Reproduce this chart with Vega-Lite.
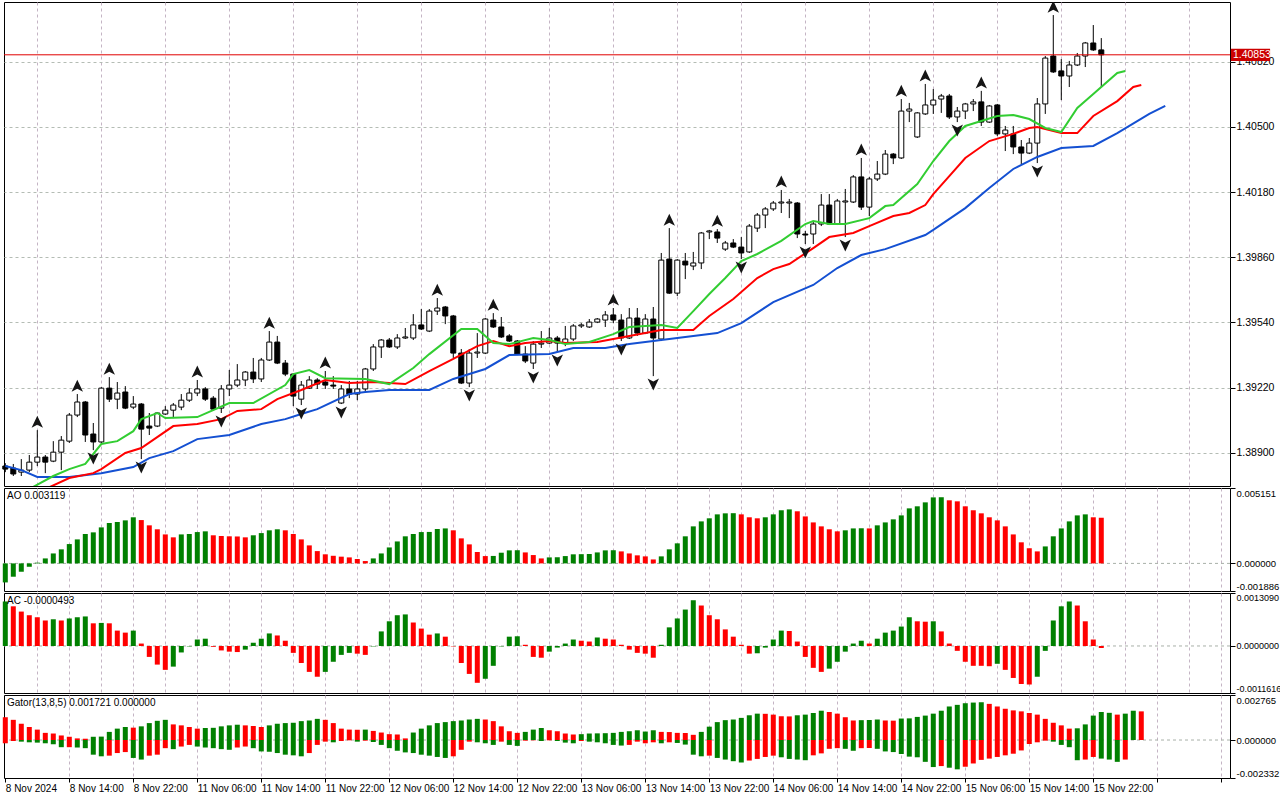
{
  "$schema": "https://vega.github.io/schema/vega-lite/v6.json",
  "background": "white",
  "padding": {"left": 1, "top": 1, "right": 0, "bottom": 0},
  "spacing": 0,
  "config": {
    "view": {"stroke": "black", "strokeWidth": 1, "fill": "white"},
    "axis": {"labelFont": "Liberation Sans", "labelFontSize": 10.5, "labelColor": "black", "tickColor": "black"},
    "title": {"font": "Liberation Sans", "fontSize": 10, "fontWeight": "normal", "color": "black", "anchor": "start", "frame": "group", "offset": -13, "dx": 3}
  },
  "datasets": {
    "candles": [
      {"i":0,"o":1.38836,"h":1.38850,"l":1.38806,"c":1.38821},
      {"i":1,"o":1.38826,"h":1.38846,"l":1.38787,"c":1.38797},
      {"i":2,"o":1.38806,"h":1.38870,"l":1.38787,"c":1.38816},
      {"i":3,"o":1.38816,"h":1.38890,"l":1.38806,"c":1.38855},
      {"i":4,"o":1.38855,"h":1.39012,"l":1.38836,"c":1.38880},
      {"i":5,"o":1.38880,"h":1.38890,"l":1.38801,"c":1.38855},
      {"i":6,"o":1.38860,"h":1.38958,"l":1.38855,"c":1.38904},
      {"i":7,"o":1.38904,"h":1.38983,"l":1.38816,"c":1.38963},
      {"i":8,"o":1.38958,"h":1.39096,"l":1.38949,"c":1.39086},
      {"i":9,"o":1.39086,"h":1.39189,"l":1.39076,"c":1.39150},
      {"i":10,"o":1.39150,"h":1.39155,"l":1.38954,"c":1.38988},
      {"i":11,"o":1.38993,"h":1.39047,"l":1.38914,"c":1.38954},
      {"i":12,"o":1.38954,"h":1.39223,"l":1.38949,"c":1.39218},
      {"i":13,"o":1.39218,"h":1.39272,"l":1.39150,"c":1.39164},
      {"i":14,"o":1.39164,"h":1.39248,"l":1.39115,"c":1.39194},
      {"i":15,"o":1.39199,"h":1.39228,"l":1.39115,"c":1.39120},
      {"i":16,"o":1.39125,"h":1.39179,"l":1.39115,"c":1.39140},
      {"i":17,"o":1.39140,"h":1.39145,"l":1.38870,"c":1.39017},
      {"i":18,"o":1.39032,"h":1.39096,"l":1.38988,"c":1.39022},
      {"i":19,"o":1.39032,"h":1.39101,"l":1.39027,"c":1.39096},
      {"i":20,"o":1.39091,"h":1.39130,"l":1.39086,"c":1.39110},
      {"i":21,"o":1.39110,"h":1.39145,"l":1.39071,"c":1.39135},
      {"i":22,"o":1.39125,"h":1.39189,"l":1.39110,"c":1.39159},
      {"i":23,"o":1.39159,"h":1.39218,"l":1.39150,"c":1.39194},
      {"i":24,"o":1.39194,"h":1.39258,"l":1.39179,"c":1.39214},
      {"i":25,"o":1.39214,"h":1.39223,"l":1.39155,"c":1.39164},
      {"i":26,"o":1.39169,"h":1.39179,"l":1.39106,"c":1.39115},
      {"i":27,"o":1.39120,"h":1.39233,"l":1.39096,"c":1.39214},
      {"i":28,"o":1.39214,"h":1.39307,"l":1.39179,"c":1.39233},
      {"i":29,"o":1.39233,"h":1.39336,"l":1.39223,"c":1.39258},
      {"i":30,"o":1.39258,"h":1.39302,"l":1.39228,"c":1.39297},
      {"i":31,"o":1.39297,"h":1.39366,"l":1.39243,"c":1.39263},
      {"i":32,"o":1.39263,"h":1.39366,"l":1.39248,"c":1.39356},
      {"i":33,"o":1.39356,"h":1.39498,"l":1.39351,"c":1.39444},
      {"i":34,"o":1.39444,"h":1.39474,"l":1.39336,"c":1.39341},
      {"i":35,"o":1.39341,"h":1.39356,"l":1.39277,"c":1.39287},
      {"i":36,"o":1.39287,"h":1.39292,"l":1.39130,"c":1.39179},
      {"i":37,"o":1.39164,"h":1.39253,"l":1.39135,"c":1.39233},
      {"i":38,"o":1.39218,"h":1.39277,"l":1.39214,"c":1.39258},
      {"i":39,"o":1.39258,"h":1.39267,"l":1.39214,"c":1.39238},
      {"i":40,"o":1.39248,"h":1.39302,"l":1.39214,"c":1.39233},
      {"i":41,"o":1.39233,"h":1.39277,"l":1.39214,"c":1.39228},
      {"i":42,"o":1.39145,"h":1.39233,"l":1.39140,"c":1.39214},
      {"i":43,"o":1.39214,"h":1.39253,"l":1.39169,"c":1.39189},
      {"i":44,"o":1.39189,"h":1.39253,"l":1.39159,"c":1.39214},
      {"i":45,"o":1.39214,"h":1.39317,"l":1.39204,"c":1.39312},
      {"i":46,"o":1.39312,"h":1.39434,"l":1.39302,"c":1.39420},
      {"i":47,"o":1.39420,"h":1.39459,"l":1.39366,"c":1.39454},
      {"i":48,"o":1.39454,"h":1.39464,"l":1.39415,"c":1.39420},
      {"i":49,"o":1.39420,"h":1.39483,"l":1.39410,"c":1.39464},
      {"i":50,"o":1.39464,"h":1.39513,"l":1.39459,"c":1.39469},
      {"i":51,"o":1.39464,"h":1.39581,"l":1.39454,"c":1.39528},
      {"i":52,"o":1.39528,"h":1.39606,"l":1.39503,"c":1.39508},
      {"i":53,"o":1.39498,"h":1.39606,"l":1.39493,"c":1.39596},
      {"i":54,"o":1.39596,"h":1.39660,"l":1.39577,"c":1.39611},
      {"i":55,"o":1.39616,"h":1.39621,"l":1.39532,"c":1.39572},
      {"i":56,"o":1.39572,"h":1.39577,"l":1.39366,"c":1.39390},
      {"i":57,"o":1.39390,"h":1.39410,"l":1.39238,"c":1.39243},
      {"i":58,"o":1.39243,"h":1.39410,"l":1.39223,"c":1.39390},
      {"i":59,"o":1.39390,"h":1.39488,"l":1.39366,"c":1.39395},
      {"i":60,"o":1.39390,"h":1.39562,"l":1.39385,"c":1.39557},
      {"i":61,"o":1.39552,"h":1.39586,"l":1.39513,"c":1.39518},
      {"i":62,"o":1.39518,"h":1.39567,"l":1.39464,"c":1.39469},
      {"i":63,"o":1.39474,"h":1.39483,"l":1.39444,"c":1.39449},
      {"i":64,"o":1.39449,"h":1.39454,"l":1.39380,"c":1.39385},
      {"i":65,"o":1.39385,"h":1.39424,"l":1.39341,"c":1.39351},
      {"i":66,"o":1.39341,"h":1.39449,"l":1.39312,"c":1.39434},
      {"i":67,"o":1.39434,"h":1.39498,"l":1.39415,"c":1.39439},
      {"i":68,"o":1.39439,"h":1.39513,"l":1.39434,"c":1.39464},
      {"i":69,"o":1.39464,"h":1.39474,"l":1.39395,"c":1.39439},
      {"i":70,"o":1.39439,"h":1.39523,"l":1.39424,"c":1.39459},
      {"i":71,"o":1.39459,"h":1.39532,"l":1.39449,"c":1.39523},
      {"i":72,"o":1.39523,"h":1.39537,"l":1.39513,"c":1.39528},
      {"i":73,"o":1.39518,"h":1.39557,"l":1.39513,"c":1.39542},
      {"i":74,"o":1.39542,"h":1.39562,"l":1.39537,"c":1.39557},
      {"i":75,"o":1.39552,"h":1.39596,"l":1.39518,"c":1.39577},
      {"i":76,"o":1.39577,"h":1.39611,"l":1.39537,"c":1.39552},
      {"i":77,"o":1.39552,"h":1.39581,"l":1.39449,"c":1.39464},
      {"i":78,"o":1.39464,"h":1.39611,"l":1.39459,"c":1.39562},
      {"i":79,"o":1.39562,"h":1.39611,"l":1.39474,"c":1.39488},
      {"i":80,"o":1.39488,"h":1.39581,"l":1.39483,"c":1.39557},
      {"i":81,"o":1.39557,"h":1.39616,"l":1.39277,"c":1.39464},
      {"i":82,"o":1.39459,"h":1.39881,"l":1.39449,"c":1.39846},
      {"i":83,"o":1.39851,"h":1.40003,"l":1.39680,"c":1.39684},
      {"i":84,"o":1.39684,"h":1.39851,"l":1.39670,"c":1.39846},
      {"i":85,"o":1.39841,"h":1.39881,"l":1.39753,"c":1.39822},
      {"i":86,"o":1.39817,"h":1.39886,"l":1.39797,"c":1.39832},
      {"i":87,"o":1.39832,"h":1.39984,"l":1.39802,"c":1.39979},
      {"i":88,"o":1.39984,"h":1.39994,"l":1.39949,"c":1.39989},
      {"i":89,"o":1.39984,"h":1.39998,"l":1.39930,"c":1.39954},
      {"i":90,"o":1.39900,"h":1.39940,"l":1.39891,"c":1.39930},
      {"i":91,"o":1.39930,"h":1.39949,"l":1.39905,"c":1.39910},
      {"i":92,"o":1.39910,"h":1.39959,"l":1.39851,"c":1.39881},
      {"i":93,"o":1.39886,"h":1.40023,"l":1.39881,"c":1.40013},
      {"i":94,"o":1.40003,"h":1.40077,"l":1.39984,"c":1.40067},
      {"i":95,"o":1.40067,"h":1.40106,"l":1.40003,"c":1.40097},
      {"i":96,"o":1.40097,"h":1.40136,"l":1.40087,"c":1.40126},
      {"i":97,"o":1.40126,"h":1.40190,"l":1.40077,"c":1.40131},
      {"i":98,"o":1.40126,"h":1.40146,"l":1.40052,"c":1.40131},
      {"i":99,"o":1.40126,"h":1.40131,"l":1.39954,"c":1.39974},
      {"i":100,"o":1.39974,"h":1.39989,"l":1.39925,"c":1.39969},
      {"i":101,"o":1.39974,"h":1.40038,"l":1.39925,"c":1.40023},
      {"i":102,"o":1.40023,"h":1.40170,"l":1.40013,"c":1.40116},
      {"i":103,"o":1.40116,"h":1.40170,"l":1.40018,"c":1.40023},
      {"i":104,"o":1.40023,"h":1.40146,"l":1.40018,"c":1.40136},
      {"i":105,"o":1.40131,"h":1.40195,"l":1.39959,"c":1.40136},
      {"i":106,"o":1.40131,"h":1.40263,"l":1.40126,"c":1.40254},
      {"i":107,"o":1.40254,"h":1.40347,"l":1.40092,"c":1.40106},
      {"i":108,"o":1.40106,"h":1.40254,"l":1.40062,"c":1.40244},
      {"i":109,"o":1.40244,"h":1.40332,"l":1.40234,"c":1.40268},
      {"i":110,"o":1.40268,"h":1.40386,"l":1.40263,"c":1.40366},
      {"i":111,"o":1.40366,"h":1.40371,"l":1.40317,"c":1.40347},
      {"i":112,"o":1.40347,"h":1.40636,"l":1.40342,"c":1.40577},
      {"i":113,"o":1.40577,"h":1.40617,"l":1.40523,"c":1.40587},
      {"i":114,"o":1.40450,"h":1.40572,"l":1.40445,"c":1.40568},
      {"i":115,"o":1.40563,"h":1.40710,"l":1.40558,"c":1.40607},
      {"i":116,"o":1.40607,"h":1.40685,"l":1.40563,"c":1.40631},
      {"i":117,"o":1.40636,"h":1.40661,"l":1.40568,"c":1.40651},
      {"i":118,"o":1.40651,"h":1.40661,"l":1.40538,"c":1.40548},
      {"i":119,"o":1.40548,"h":1.40597,"l":1.40523,"c":1.40577},
      {"i":120,"o":1.40577,"h":1.40617,"l":1.40538,"c":1.40612},
      {"i":121,"o":1.40612,"h":1.40636,"l":1.40577,"c":1.40622},
      {"i":122,"o":1.40622,"h":1.40676,"l":1.40504,"c":1.40523},
      {"i":123,"o":1.40523,"h":1.40607,"l":1.40519,"c":1.40602},
      {"i":124,"o":1.40607,"h":1.40612,"l":1.40455,"c":1.40465},
      {"i":125,"o":1.40465,"h":1.40504,"l":1.40381,"c":1.40484},
      {"i":126,"o":1.40465,"h":1.40504,"l":1.40366,"c":1.40401},
      {"i":127,"o":1.40401,"h":1.40435,"l":1.40317,"c":1.40371},
      {"i":128,"o":1.40371,"h":1.40445,"l":1.40366,"c":1.40420},
      {"i":129,"o":1.40420,"h":1.40641,"l":1.40322,"c":1.40612},
      {"i":130,"o":1.40612,"h":1.40847,"l":1.40563,"c":1.40837},
      {"i":131,"o":1.40847,"h":1.41048,"l":1.40764,"c":1.40769},
      {"i":132,"o":1.40774,"h":1.40832,"l":1.40631,"c":1.40749},
      {"i":133,"o":1.40749,"h":1.40823,"l":1.40695,"c":1.40803},
      {"i":134,"o":1.40803,"h":1.40862,"l":1.40798,"c":1.40847},
      {"i":135,"o":1.40847,"h":1.40916,"l":1.40793,"c":1.40911},
      {"i":136,"o":1.40911,"h":1.40999,"l":1.40872,"c":1.40877},
      {"i":137,"o":1.40877,"h":1.40935,"l":1.40695,"c":1.40853}
    ],
    "lips": [
      {"i":3,"v":1.38723},{"i":6,"v":1.38787},{"i":8,"v":1.38821},{"i":10,"v":1.38846},{"i":12,"v":1.38944},{"i":14,"v":1.38958},{"i":16,"v":1.39007},{"i":17,"v":1.39066},{"i":19,"v":1.39096},{"i":20,"v":1.39071},{"i":24,"v":1.39076},{"i":28,"v":1.39145},{"i":31,"v":1.39145},{"i":35,"v":1.39233},{"i":36,"v":1.39287},{"i":38,"v":1.39307},{"i":40,"v":1.39267},{"i":45,"v":1.39263},{"i":48,"v":1.39238},{"i":51,"v":1.39317},{"i":53,"v":1.39385},{"i":57,"v":1.39508},{"i":59,"v":1.39508},{"i":61,"v":1.39439},{"i":63,"v":1.39434},{"i":66,"v":1.39464},{"i":68,"v":1.39454},{"i":70,"v":1.39434},{"i":73,"v":1.39444},{"i":76,"v":1.39483},{"i":78,"v":1.39518},{"i":82,"v":1.39528},{"i":84,"v":1.39513},{"i":86,"v":1.39596},{"i":88,"v":1.39680},{"i":90,"v":1.39758},{"i":92,"v":1.39841},{"i":94,"v":1.39876},{"i":97,"v":1.39940},{"i":100,"v":1.40023},{"i":101,"v":1.40038},{"i":103,"v":1.40023},{"i":105,"v":1.40023},{"i":108,"v":1.40052},{"i":110,"v":1.40111},{"i":111,"v":1.40116},{"i":114,"v":1.40219},{"i":116,"v":1.40332},{"i":118,"v":1.40430},{"i":120,"v":1.40504},{"i":122,"v":1.40528},{"i":124,"v":1.40553},{"i":126,"v":1.40558},{"i":128,"v":1.40538},{"i":130,"v":1.40494},{"i":132,"v":1.40474},{"i":134,"v":1.40592},{"i":136,"v":1.40661},{"i":139,"v":1.40764},{"i":140,"v":1.40774}
    ],
    "teeth": [
      {"i":5,"v":1.38723},{"i":8,"v":1.38777},{"i":11,"v":1.38801},{"i":12,"v":1.38821},{"i":15,"v":1.38900},{"i":17,"v":1.38924},{"i":21,"v":1.39032},{"i":24,"v":1.39042},{"i":27,"v":1.39066},{"i":29,"v":1.39106},{"i":32,"v":1.39115},{"i":34,"v":1.39164},{"i":37,"v":1.39209},{"i":40,"v":1.39258},{"i":43,"v":1.39243},{"i":46,"v":1.39248},{"i":50,"v":1.39238},{"i":53,"v":1.39302},{"i":56,"v":1.39361},{"i":59,"v":1.39424},{"i":61,"v":1.39449},{"i":63,"v":1.39424},{"i":65,"v":1.39439},{"i":68,"v":1.39449},{"i":70,"v":1.39439},{"i":74,"v":1.39444},{"i":78,"v":1.39474},{"i":82,"v":1.39503},{"i":86,"v":1.39503},{"i":88,"v":1.39572},{"i":91,"v":1.39655},{"i":94,"v":1.39758},{"i":96,"v":1.39802},{"i":98,"v":1.39827},{"i":101,"v":1.39905},{"i":103,"v":1.39959},{"i":106,"v":1.39979},{"i":108,"v":1.40013},{"i":111,"v":1.40062},{"i":113,"v":1.40077},{"i":115,"v":1.40116},{"i":116,"v":1.40170},{"i":118,"v":1.40258},{"i":120,"v":1.40347},{"i":123,"v":1.40430},{"i":126,"v":1.40465},{"i":128,"v":1.40494},{"i":129,"v":1.40499},{"i":132,"v":1.40469},{"i":134,"v":1.40469},{"i":136,"v":1.40553},{"i":139,"v":1.40626},{"i":141,"v":1.40695},{"i":142,"v":1.40705}
    ],
    "jaw": [
      {"i":0,"v":1.38836},{"i":2,"v":1.38816},{"i":4,"v":1.38782},{"i":8,"v":1.38782},{"i":12,"v":1.38801},{"i":16,"v":1.38831},{"i":18,"v":1.38875},{"i":21,"v":1.38909},{"i":24,"v":1.38968},{"i":28,"v":1.38988},{"i":32,"v":1.39042},{"i":35,"v":1.39066},{"i":37,"v":1.39091},{"i":39,"v":1.39115},{"i":43,"v":1.39189},{"i":45,"v":1.39199},{"i":48,"v":1.39209},{"i":53,"v":1.39209},{"i":56,"v":1.39263},{"i":60,"v":1.39312},{"i":63,"v":1.39380},{"i":68,"v":1.39385},{"i":71,"v":1.39415},{"i":75,"v":1.39415},{"i":78,"v":1.39434},{"i":82,"v":1.39454},{"i":84,"v":1.39464},{"i":89,"v":1.39488},{"i":92,"v":1.39537},{"i":96,"v":1.39640},{"i":101,"v":1.39724},{"i":104,"v":1.39807},{"i":107,"v":1.39871},{"i":110,"v":1.39900},{"i":115,"v":1.39969},{"i":116,"v":1.39994},{"i":120,"v":1.40101},{"i":123,"v":1.40200},{"i":126,"v":1.40293},{"i":129,"v":1.40352},{"i":132,"v":1.40396},{"i":136,"v":1.40406},{"i":139,"v":1.40469},{"i":143,"v":1.40563},{"i":145,"v":1.40602}
    ],
    "fup": [
      {"i":4,"v":1.39012},{"i":9,"v":1.39189},{"i":13,"v":1.39272},{"i":24,"v":1.39258},{"i":33,"v":1.39498},{"i":40,"v":1.39302},{"i":54,"v":1.39660},{"i":61,"v":1.39586},{"i":76,"v":1.39611},{"i":83,"v":1.40003},{"i":89,"v":1.39998},{"i":97,"v":1.40190},{"i":107,"v":1.40347},{"i":112,"v":1.40636},{"i":115,"v":1.40710},{"i":122,"v":1.40676},{"i":131,"v":1.41048}
    ],
    "fdn": [
      {"i":11,"v":1.38914},{"i":17,"v":1.38870},{"i":27,"v":1.39096},{"i":37,"v":1.39135},{"i":42,"v":1.39140},{"i":58,"v":1.39223},{"i":66,"v":1.39312},{"i":69,"v":1.39395},{"i":77,"v":1.39449},{"i":81,"v":1.39277},{"i":92,"v":1.39851},{"i":100,"v":1.39925},{"i":105,"v":1.39959},{"i":119,"v":1.40523},{"i":129,"v":1.40322}
    ],
    "ao": [
      {"i":0,"v":-0.00130,"d":"g"},{"i":1,"v":-0.00091,"d":"g"},{"i":2,"v":-0.00057,"d":"g"},{"i":3,"v":-0.00023,"d":"g"},{"i":4,"v":0.00005,"d":"g"},{"i":5,"v":0.00034,"d":"g"},{"i":6,"v":0.00068,"d":"g"},{"i":7,"v":0.00096,"d":"g"},{"i":8,"v":0.00132,"d":"g"},{"i":9,"v":0.00164,"d":"g"},
      {"i":10,"v":0.00201,"d":"g"},{"i":11,"v":0.00212,"d":"g"},{"i":12,"v":0.00246,"d":"g"},{"i":13,"v":0.00276,"d":"g"},{"i":14,"v":0.00283,"d":"g"},{"i":15,"v":0.00294,"d":"g"},{"i":16,"v":0.00315,"d":"g"},{"i":17,"v":0.00296,"d":"r"},{"i":18,"v":0.00260,"d":"r"},{"i":19,"v":0.00233,"d":"r"},
      {"i":20,"v":0.00198,"d":"r"},{"i":21,"v":0.00178,"d":"r"},{"i":22,"v":0.00198,"d":"g"},{"i":23,"v":0.00201,"d":"g"},{"i":24,"v":0.00214,"d":"g"},{"i":25,"v":0.00219,"d":"g"},{"i":26,"v":0.00192,"d":"r"},{"i":27,"v":0.00187,"d":"r"},{"i":28,"v":0.00185,"d":"r"},{"i":29,"v":0.00184,"d":"r"},
      {"i":30,"v":0.00178,"d":"r"},{"i":31,"v":0.00192,"d":"g"},{"i":32,"v":0.00207,"d":"g"},{"i":33,"v":0.00226,"d":"g"},{"i":34,"v":0.00233,"d":"g"},{"i":35,"v":0.00226,"d":"r"},{"i":36,"v":0.00201,"d":"r"},{"i":37,"v":0.00164,"d":"r"},{"i":38,"v":0.00123,"d":"r"},{"i":39,"v":0.00084,"d":"r"},
      {"i":40,"v":0.00062,"d":"r"},{"i":41,"v":0.00052,"d":"r"},{"i":42,"v":0.00046,"d":"r"},{"i":43,"v":0.00041,"d":"r"},{"i":44,"v":0.00030,"d":"r"},{"i":45,"v":0.00016,"d":"r"},{"i":46,"v":0.00034,"d":"g"},{"i":47,"v":0.00068,"d":"g"},{"i":48,"v":0.00109,"d":"g"},{"i":49,"v":0.00150,"d":"g"},
      {"i":50,"v":0.00185,"d":"g"},{"i":51,"v":0.00201,"d":"g"},{"i":52,"v":0.00214,"d":"g"},{"i":53,"v":0.00215,"d":"g"},{"i":54,"v":0.00235,"d":"g"},{"i":55,"v":0.00239,"d":"g"},{"i":56,"v":0.00226,"d":"r"},{"i":57,"v":0.00171,"d":"r"},{"i":58,"v":0.00130,"d":"r"},{"i":59,"v":0.00078,"d":"r"},
      {"i":60,"v":0.00050,"d":"r"},{"i":61,"v":0.00051,"d":"g"},{"i":62,"v":0.00073,"d":"g"},{"i":63,"v":0.00089,"d":"g"},{"i":64,"v":0.00090,"d":"g"},{"i":65,"v":0.00075,"d":"r"},{"i":66,"v":0.00057,"d":"r"},{"i":67,"v":0.00034,"d":"r"},{"i":68,"v":0.00041,"d":"g"},{"i":69,"v":0.00042,"d":"g"},
      {"i":70,"v":0.00050,"d":"g"},{"i":71,"v":0.00062,"d":"g"},{"i":72,"v":0.00063,"d":"g"},{"i":73,"v":0.00064,"d":"g"},{"i":74,"v":0.00075,"d":"g"},{"i":75,"v":0.00089,"d":"g"},{"i":76,"v":0.00090,"d":"g"},{"i":77,"v":0.00082,"d":"r"},{"i":78,"v":0.00068,"d":"r"},{"i":79,"v":0.00055,"d":"r"},
      {"i":80,"v":0.00048,"d":"r"},{"i":81,"v":0.00027,"d":"r"},{"i":82,"v":0.00048,"d":"g"},{"i":83,"v":0.00096,"d":"g"},{"i":84,"v":0.00137,"d":"g"},{"i":85,"v":0.00185,"d":"g"},{"i":86,"v":0.00253,"d":"g"},{"i":87,"v":0.00287,"d":"g"},{"i":88,"v":0.00308,"d":"g"},{"i":89,"v":0.00335,"d":"g"},
      {"i":90,"v":0.00342,"d":"g"},{"i":91,"v":0.00343,"d":"g"},{"i":92,"v":0.00335,"d":"r"},{"i":93,"v":0.00315,"d":"r"},{"i":94,"v":0.00308,"d":"r"},{"i":95,"v":0.00315,"d":"g"},{"i":96,"v":0.00335,"d":"g"},{"i":97,"v":0.00363,"d":"g"},{"i":98,"v":0.00369,"d":"g"},{"i":99,"v":0.00356,"d":"r"},
      {"i":100,"v":0.00321,"d":"r"},{"i":101,"v":0.00280,"d":"r"},{"i":102,"v":0.00253,"d":"r"},{"i":103,"v":0.00233,"d":"r"},{"i":104,"v":0.00219,"d":"r"},{"i":105,"v":0.00226,"d":"g"},{"i":106,"v":0.00239,"d":"g"},{"i":107,"v":0.00240,"d":"g"},{"i":108,"v":0.00239,"d":"r"},{"i":109,"v":0.00260,"d":"g"},
      {"i":110,"v":0.00280,"d":"g"},{"i":111,"v":0.00301,"d":"g"},{"i":112,"v":0.00328,"d":"g"},{"i":113,"v":0.00376,"d":"g"},{"i":114,"v":0.00390,"d":"g"},{"i":115,"v":0.00417,"d":"g"},{"i":116,"v":0.00451,"d":"g"},{"i":117,"v":0.00452,"d":"g"},{"i":118,"v":0.00431,"d":"r"},{"i":119,"v":0.00424,"d":"r"},
      {"i":120,"v":0.00390,"d":"r"},{"i":121,"v":0.00363,"d":"r"},{"i":122,"v":0.00342,"d":"r"},{"i":123,"v":0.00315,"d":"r"},{"i":124,"v":0.00294,"d":"r"},{"i":125,"v":0.00253,"d":"r"},{"i":126,"v":0.00198,"d":"r"},{"i":127,"v":0.00144,"d":"r"},{"i":128,"v":0.00103,"d":"r"},{"i":129,"v":0.00082,"d":"r"},
      {"i":130,"v":0.00116,"d":"g"},{"i":131,"v":0.00185,"d":"g"},{"i":132,"v":0.00239,"d":"g"},{"i":133,"v":0.00287,"d":"g"},{"i":134,"v":0.00328,"d":"g"},{"i":135,"v":0.00335,"d":"g"},{"i":136,"v":0.00315,"d":"r"},{"i":137,"v":0.003119,"d":"r"}
    ],
    "ac": [
      {"i":0,"v":0.00110,"d":"g"},{"i":1,"v":0.00098,"d":"r"},{"i":2,"v":0.00085,"d":"r"},{"i":3,"v":0.00076,"d":"r"},{"i":4,"v":0.00071,"d":"r"},{"i":5,"v":0.00063,"d":"r"},{"i":6,"v":0.00066,"d":"g"},{"i":7,"v":0.00063,"d":"r"},{"i":8,"v":0.00068,"d":"g"},{"i":9,"v":0.00071,"d":"g"},
      {"i":10,"v":0.00073,"d":"g"},{"i":11,"v":0.00056,"d":"r"},{"i":12,"v":0.00057,"d":"g"},{"i":13,"v":0.00056,"d":"r"},{"i":14,"v":0.00038,"d":"r"},{"i":15,"v":0.00033,"d":"r"},{"i":16,"v":0.00038,"d":"g"},{"i":17,"v":0.00006,"d":"r"},{"i":18,"v":-0.00027,"d":"r"},{"i":19,"v":-0.00046,"d":"r"},
      {"i":20,"v":-0.00059,"d":"r"},{"i":21,"v":-0.00051,"d":"g"},{"i":22,"v":-0.00016,"d":"g"},{"i":23,"v":-0.00001,"d":"g"},{"i":24,"v":0.00016,"d":"g"},{"i":25,"v":0.00018,"d":"g"},{"i":26,"v":-0.00002,"d":"r"},{"i":27,"v":-0.00011,"d":"r"},{"i":28,"v":-0.00014,"d":"r"},{"i":29,"v":-0.00015,"d":"r"},
      {"i":30,"v":-0.00009,"d":"g"},{"i":31,"v":0.00008,"d":"g"},{"i":32,"v":0.00018,"d":"g"},{"i":33,"v":0.00031,"d":"g"},{"i":34,"v":0.00026,"d":"r"},{"i":35,"v":0.00013,"d":"r"},{"i":36,"v":-0.00017,"d":"r"},{"i":37,"v":-0.00042,"d":"r"},{"i":38,"v":-0.00064,"d":"r"},{"i":39,"v":-0.00076,"d":"r"},
      {"i":40,"v":-0.00064,"d":"g"},{"i":41,"v":-0.00039,"d":"g"},{"i":42,"v":-0.00022,"d":"g"},{"i":43,"v":-0.00017,"d":"g"},{"i":44,"v":-0.00019,"d":"r"},{"i":45,"v":-0.00022,"d":"r"},{"i":46,"v":-0.00001,"d":"g"},{"i":47,"v":0.00036,"d":"g"},{"i":48,"v":0.00061,"d":"g"},{"i":49,"v":0.00076,"d":"g"},
      {"i":50,"v":0.00078,"d":"g"},{"i":51,"v":0.00058,"d":"r"},{"i":52,"v":0.00043,"d":"r"},{"i":53,"v":0.00028,"d":"r"},{"i":54,"v":0.00031,"d":"g"},{"i":55,"v":0.00023,"d":"r"},{"i":56,"v":-0.00001,"d":"r"},{"i":57,"v":-0.00042,"d":"r"},{"i":58,"v":-0.00069,"d":"r"},{"i":59,"v":-0.00091,"d":"r"},
      {"i":60,"v":-0.00081,"d":"g"},{"i":61,"v":-0.00049,"d":"g"},{"i":62,"v":-0.00001,"d":"g"},{"i":63,"v":0.00023,"d":"g"},{"i":64,"v":0.00024,"d":"g"},{"i":65,"v":0.00003,"d":"r"},{"i":66,"v":-0.00027,"d":"r"},{"i":67,"v":-0.00029,"d":"r"},{"i":68,"v":-0.00014,"d":"g"},{"i":69,"v":-0.00004,"d":"g"},
      {"i":70,"v":0.00006,"d":"g"},{"i":71,"v":0.00016,"d":"g"},{"i":72,"v":0.00013,"d":"r"},{"i":73,"v":0.00011,"d":"r"},{"i":74,"v":0.00021,"d":"g"},{"i":75,"v":0.00018,"d":"r"},{"i":76,"v":0.00016,"d":"r"},{"i":77,"v":0.00003,"d":"r"},{"i":78,"v":-0.00009,"d":"r"},{"i":79,"v":-0.00017,"d":"r"},
      {"i":80,"v":-0.00019,"d":"r"},{"i":81,"v":-0.00029,"d":"r"},{"i":82,"v":0.00003,"d":"g"},{"i":83,"v":0.00046,"d":"g"},{"i":84,"v":0.00068,"d":"g"},{"i":85,"v":0.00090,"d":"g"},{"i":86,"v":0.00113,"d":"g"},{"i":87,"v":0.00100,"d":"r"},{"i":88,"v":0.00076,"d":"r"},{"i":89,"v":0.00066,"d":"r"},
      {"i":90,"v":0.00041,"d":"r"},{"i":91,"v":0.00023,"d":"r"},{"i":92,"v":0.00003,"d":"r"},{"i":93,"v":-0.00019,"d":"r"},{"i":94,"v":-0.00018,"d":"g"},{"i":95,"v":-0.00004,"d":"g"},{"i":96,"v":0.00016,"d":"g"},{"i":97,"v":0.00038,"d":"g"},{"i":98,"v":0.00037,"d":"r"},{"i":99,"v":0.00011,"d":"r"},
      {"i":100,"v":-0.00027,"d":"r"},{"i":101,"v":-0.00054,"d":"r"},{"i":102,"v":-0.00064,"d":"r"},{"i":103,"v":-0.00056,"d":"g"},{"i":104,"v":-0.00039,"d":"g"},{"i":105,"v":-0.00014,"d":"g"},{"i":106,"v":0.00006,"d":"g"},{"i":107,"v":0.00013,"d":"g"},{"i":108,"v":0.00006,"d":"r"},{"i":109,"v":0.00018,"d":"g"},
      {"i":110,"v":0.00033,"d":"g"},{"i":111,"v":0.00038,"d":"g"},{"i":112,"v":0.00048,"d":"g"},{"i":113,"v":0.00071,"d":"g"},{"i":114,"v":0.00061,"d":"r"},{"i":115,"v":0.00060,"d":"r"},{"i":116,"v":0.00061,"d":"g"},{"i":117,"v":0.00036,"d":"r"},{"i":118,"v":0.00006,"d":"r"},{"i":119,"v":-0.00012,"d":"r"},
      {"i":120,"v":-0.00039,"d":"r"},{"i":121,"v":-0.00049,"d":"r"},{"i":122,"v":-0.00049,"d":"r"},{"i":123,"v":-0.00050,"d":"r"},{"i":124,"v":-0.00044,"d":"g"},{"i":125,"v":-0.00059,"d":"r"},{"i":126,"v":-0.00079,"d":"r"},{"i":127,"v":-0.00094,"d":"r"},{"i":128,"v":-0.00095,"d":"r"},{"i":129,"v":-0.00076,"d":"g"},
      {"i":130,"v":-0.00012,"d":"g"},{"i":131,"v":0.00063,"d":"g"},{"i":132,"v":0.00098,"d":"g"},{"i":133,"v":0.00110,"d":"g"},{"i":134,"v":0.00100,"d":"r"},{"i":135,"v":0.00061,"d":"r"},{"i":136,"v":0.00016,"d":"r"},{"i":137,"v":-0.0000493,"d":"r"}
    ],
    "gu": [
      {"i":0,"v":0.00140,"d":"r"},{"i":1,"v":0.00124,"d":"r"},{"i":2,"v":0.00100,"d":"r"},{"i":3,"v":0.00080,"d":"r"},{"i":4,"v":0.00064,"d":"r"},{"i":5,"v":0.00044,"d":"r"},{"i":6,"v":0.00040,"d":"r"},{"i":7,"v":0.00028,"d":"r"},{"i":8,"v":0.00020,"d":"r"},{"i":9,"v":0.00010,"d":"r"},
      {"i":10,"v":0.00008,"d":"r"},{"i":11,"v":0.00020,"d":"g"},{"i":12,"v":0.00021,"d":"g"},{"i":13,"v":0.00050,"d":"g"},{"i":14,"v":0.00070,"d":"g"},{"i":15,"v":0.00080,"d":"g"},{"i":16,"v":0.00076,"d":"r"},{"i":17,"v":0.00084,"d":"g"},{"i":18,"v":0.00104,"d":"g"},{"i":19,"v":0.00118,"d":"g"},
      {"i":20,"v":0.00124,"d":"g"},{"i":21,"v":0.00096,"d":"r"},{"i":22,"v":0.00090,"d":"r"},{"i":23,"v":0.00080,"d":"r"},{"i":24,"v":0.00070,"d":"r"},{"i":25,"v":0.00074,"d":"g"},{"i":26,"v":0.00075,"d":"g"},{"i":27,"v":0.00084,"d":"g"},{"i":28,"v":0.00090,"d":"g"},{"i":29,"v":0.00094,"d":"g"},
      {"i":30,"v":0.00090,"d":"r"},{"i":31,"v":0.00086,"d":"r"},{"i":32,"v":0.00080,"d":"r"},{"i":33,"v":0.00090,"d":"g"},{"i":34,"v":0.00100,"d":"g"},{"i":35,"v":0.00104,"d":"g"},{"i":36,"v":0.00106,"d":"g"},{"i":37,"v":0.00116,"d":"g"},{"i":38,"v":0.00120,"d":"g"},{"i":39,"v":0.00130,"d":"g"},
      {"i":40,"v":0.00124,"d":"r"},{"i":41,"v":0.00104,"d":"r"},{"i":42,"v":0.00070,"d":"r"},{"i":43,"v":0.00064,"d":"r"},{"i":44,"v":0.00063,"d":"r"},{"i":45,"v":0.00064,"d":"g"},{"i":46,"v":0.00056,"d":"r"},{"i":47,"v":0.00046,"d":"r"},{"i":48,"v":0.00036,"d":"r"},{"i":49,"v":0.00034,"d":"r"},
      {"i":50,"v":0.00010,"d":"r"},{"i":51,"v":0.00046,"d":"g"},{"i":52,"v":0.00070,"d":"g"},{"i":53,"v":0.00090,"d":"g"},{"i":54,"v":0.00104,"d":"g"},{"i":55,"v":0.00110,"d":"g"},{"i":56,"v":0.00116,"d":"g"},{"i":57,"v":0.00120,"d":"g"},{"i":58,"v":0.00126,"d":"g"},{"i":59,"v":0.00130,"d":"g"},
      {"i":60,"v":0.00126,"d":"r"},{"i":61,"v":0.00116,"d":"r"},{"i":62,"v":0.00084,"d":"r"},{"i":63,"v":0.00054,"d":"r"},{"i":64,"v":0.00044,"d":"r"},{"i":65,"v":0.00050,"d":"g"},{"i":66,"v":0.00064,"d":"g"},{"i":67,"v":0.00074,"d":"g"},{"i":68,"v":0.00060,"d":"r"},{"i":69,"v":0.00054,"d":"r"},
      {"i":70,"v":0.00040,"d":"r"},{"i":71,"v":0.00034,"d":"r"},{"i":72,"v":0.00036,"d":"g"},{"i":73,"v":0.00040,"d":"g"},{"i":74,"v":0.00041,"d":"g"},{"i":75,"v":0.00042,"d":"g"},{"i":76,"v":0.00044,"d":"g"},{"i":77,"v":0.00050,"d":"g"},{"i":78,"v":0.00054,"d":"g"},{"i":79,"v":0.00060,"d":"g"},
      {"i":80,"v":0.00052,"d":"g"},{"i":81,"v":0.00060,"d":"g"},{"i":82,"v":0.00050,"d":"r"},{"i":83,"v":0.00049,"d":"r"},{"i":84,"v":0.00044,"d":"r"},{"i":85,"v":0.00043,"d":"r"},{"i":86,"v":0.00032,"d":"r"},{"i":87,"v":0.00050,"d":"g"},{"i":88,"v":0.00082,"d":"g"},{"i":89,"v":0.00110,"d":"g"},
      {"i":90,"v":0.00122,"d":"g"},{"i":91,"v":0.00126,"d":"g"},{"i":92,"v":0.00136,"d":"g"},{"i":93,"v":0.00152,"d":"g"},{"i":94,"v":0.00162,"d":"g"},{"i":95,"v":0.00161,"d":"r"},{"i":96,"v":0.00156,"d":"r"},{"i":97,"v":0.00146,"d":"r"},{"i":98,"v":0.00145,"d":"r"},{"i":99,"v":0.00152,"d":"g"},
      {"i":100,"v":0.00156,"d":"g"},{"i":101,"v":0.00166,"d":"g"},{"i":102,"v":0.00180,"d":"g"},{"i":103,"v":0.00172,"d":"r"},{"i":104,"v":0.00162,"d":"r"},{"i":105,"v":0.00140,"d":"r"},{"i":106,"v":0.00120,"d":"r"},{"i":107,"v":0.00122,"d":"g"},{"i":108,"v":0.00123,"d":"g"},{"i":109,"v":0.00126,"d":"g"},
      {"i":110,"v":0.00120,"d":"r"},{"i":111,"v":0.00119,"d":"r"},{"i":112,"v":0.00132,"d":"g"},{"i":113,"v":0.00133,"d":"g"},{"i":114,"v":0.00142,"d":"g"},{"i":115,"v":0.00150,"d":"g"},{"i":116,"v":0.00162,"d":"g"},{"i":117,"v":0.00180,"d":"g"},{"i":118,"v":0.00206,"d":"g"},{"i":119,"v":0.00216,"d":"g"},
      {"i":120,"v":0.00226,"d":"g"},{"i":121,"v":0.00230,"d":"g"},{"i":122,"v":0.00232,"d":"g"},{"i":123,"v":0.00222,"d":"r"},{"i":124,"v":0.00206,"d":"r"},{"i":125,"v":0.00192,"d":"r"},{"i":126,"v":0.00182,"d":"r"},{"i":127,"v":0.00176,"d":"r"},{"i":128,"v":0.00166,"d":"r"},{"i":129,"v":0.00156,"d":"r"},
      {"i":130,"v":0.00130,"d":"r"},{"i":131,"v":0.00106,"d":"r"},{"i":132,"v":0.00090,"d":"r"},{"i":133,"v":0.00070,"d":"r"},{"i":134,"v":0.00072,"d":"g"},{"i":135,"v":0.00096,"d":"g"},{"i":136,"v":0.00150,"d":"g"},{"i":137,"v":0.001721,"d":"g"},{"i":138,"v":0.00167,"d":"g"},{"i":139,"v":0.00156,"d":"r"},
      {"i":140,"v":0.00162,"d":"g"},{"i":141,"v":0.00180,"d":"g"},{"i":142,"v":0.00176,"d":"r"}
    ],
    "gl": [
      {"i":0,"v":-0.00020,"d":"r"},{"i":1,"v":-0.00006,"d":"r"},{"i":2,"v":-0.00010,"d":"g"},{"i":3,"v":-0.00014,"d":"g"},{"i":4,"v":-0.00016,"d":"g"},{"i":5,"v":-0.00020,"d":"g"},{"i":6,"v":-0.00026,"d":"g"},{"i":7,"v":-0.00044,"d":"g"},{"i":8,"v":-0.00044,"d":"r"},{"i":9,"v":-0.00046,"d":"g"},
      {"i":10,"v":-0.00050,"d":"g"},{"i":11,"v":-0.00090,"d":"g"},{"i":12,"v":-0.00100,"d":"g"},{"i":13,"v":-0.00096,"d":"r"},{"i":14,"v":-0.00080,"d":"r"},{"i":15,"v":-0.00074,"d":"r"},{"i":16,"v":-0.00110,"d":"g"},{"i":17,"v":-0.00120,"d":"g"},{"i":18,"v":-0.00096,"d":"r"},{"i":19,"v":-0.00090,"d":"r"},
      {"i":20,"v":-0.00050,"d":"r"},{"i":21,"v":-0.00056,"d":"g"},{"i":22,"v":-0.00040,"d":"r"},{"i":23,"v":-0.00030,"d":"r"},{"i":24,"v":-0.00040,"d":"g"},{"i":25,"v":-0.00046,"d":"g"},{"i":26,"v":-0.00050,"d":"g"},{"i":27,"v":-0.00056,"d":"g"},{"i":28,"v":-0.00060,"d":"g"},{"i":29,"v":-0.00046,"d":"r"},
      {"i":30,"v":-0.00040,"d":"r"},{"i":31,"v":-0.00050,"d":"g"},{"i":32,"v":-0.00070,"d":"g"},{"i":33,"v":-0.00072,"d":"g"},{"i":34,"v":-0.00080,"d":"g"},{"i":35,"v":-0.00090,"d":"g"},{"i":36,"v":-0.00094,"d":"g"},{"i":37,"v":-0.00100,"d":"g"},{"i":38,"v":-0.00080,"d":"r"},{"i":39,"v":-0.00030,"d":"r"},
      {"i":40,"v":-0.00010,"d":"r"},{"i":41,"v":-0.00014,"d":"g"},{"i":42,"v":-0.00006,"d":"r"},{"i":43,"v":-0.00002,"d":"r"},{"i":44,"v":-0.00010,"d":"g"},{"i":45,"v":-0.00004,"d":"r"},{"i":46,"v":-0.00012,"d":"g"},{"i":47,"v":-0.00030,"d":"g"},{"i":48,"v":-0.00050,"d":"g"},{"i":49,"v":-0.00066,"d":"g"},
      {"i":50,"v":-0.00076,"d":"g"},{"i":51,"v":-0.00080,"d":"g"},{"i":52,"v":-0.00090,"d":"g"},{"i":53,"v":-0.00096,"d":"g"},{"i":54,"v":-0.00104,"d":"g"},{"i":55,"v":-0.00110,"d":"g"},{"i":56,"v":-0.00100,"d":"r"},{"i":57,"v":-0.00060,"d":"r"},{"i":58,"v":-0.00010,"d":"r"},{"i":59,"v":-0.00014,"d":"g"},
      {"i":60,"v":-0.00020,"d":"g"},{"i":61,"v":-0.00030,"d":"g"},{"i":62,"v":-0.00010,"d":"r"},{"i":63,"v":-0.00030,"d":"g"},{"i":64,"v":-0.00036,"d":"g"},{"i":65,"v":-0.00004,"d":"r"},{"i":66,"v":-0.00002,"d":"r"},{"i":67,"v":-0.00006,"d":"g"},{"i":68,"v":-0.00002,"d":"r"},{"i":69,"v":-0.00006,"d":"g"},
      {"i":70,"v":-0.00016,"d":"g"},{"i":71,"v":-0.00020,"d":"g"},{"i":72,"v":-0.00006,"d":"r"},{"i":73,"v":-0.00010,"d":"g"},{"i":74,"v":-0.00014,"d":"g"},{"i":75,"v":-0.00020,"d":"g"},{"i":76,"v":-0.00030,"d":"g"},{"i":77,"v":-0.00034,"d":"g"},{"i":78,"v":-0.00030,"d":"r"},{"i":79,"v":-0.00010,"d":"r"},
      {"i":80,"v":-0.00020,"d":"r"},{"i":81,"v":-0.00014,"d":"r"},{"i":82,"v":-0.00020,"d":"g"},{"i":83,"v":-0.00014,"d":"r"},{"i":84,"v":-0.00018,"d":"g"},{"i":85,"v":-0.00028,"d":"g"},{"i":86,"v":-0.00090,"d":"g"},{"i":87,"v":-0.00100,"d":"g"},{"i":88,"v":-0.00096,"d":"r"},{"i":89,"v":-0.00110,"d":"g"},
      {"i":90,"v":-0.00120,"d":"g"},{"i":91,"v":-0.00130,"d":"g"},{"i":92,"v":-0.00138,"d":"g"},{"i":93,"v":-0.00126,"d":"r"},{"i":94,"v":-0.00116,"d":"r"},{"i":95,"v":-0.00104,"d":"r"},{"i":96,"v":-0.00096,"d":"r"},{"i":97,"v":-0.00106,"d":"g"},{"i":98,"v":-0.00116,"d":"g"},{"i":99,"v":-0.00120,"d":"g"},
      {"i":100,"v":-0.00124,"d":"g"},{"i":101,"v":-0.00094,"d":"r"},{"i":102,"v":-0.00082,"d":"r"},{"i":103,"v":-0.00054,"d":"r"},{"i":104,"v":-0.00050,"d":"r"},{"i":105,"v":-0.00054,"d":"g"},{"i":106,"v":-0.00066,"d":"g"},{"i":107,"v":-0.00050,"d":"r"},{"i":108,"v":-0.00049,"d":"r"},{"i":109,"v":-0.00054,"d":"g"},
      {"i":110,"v":-0.00070,"d":"g"},{"i":111,"v":-0.00074,"d":"g"},{"i":112,"v":-0.00086,"d":"g"},{"i":113,"v":-0.00102,"d":"g"},{"i":114,"v":-0.00106,"d":"g"},{"i":115,"v":-0.00134,"d":"g"},{"i":116,"v":-0.00166,"d":"g"},{"i":117,"v":-0.00160,"d":"r"},{"i":118,"v":-0.00170,"d":"g"},{"i":119,"v":-0.00180,"d":"g"},
      {"i":120,"v":-0.00164,"d":"r"},{"i":121,"v":-0.00144,"d":"r"},{"i":122,"v":-0.00122,"d":"r"},{"i":123,"v":-0.00114,"d":"r"},{"i":124,"v":-0.00104,"d":"r"},{"i":125,"v":-0.00094,"d":"r"},{"i":126,"v":-0.00084,"d":"r"},{"i":127,"v":-0.00064,"d":"r"},{"i":128,"v":-0.00024,"d":"r"},{"i":129,"v":-0.00014,"d":"r"},
      {"i":130,"v":-0.00004,"d":"r"},{"i":131,"v":-0.00010,"d":"g"},{"i":132,"v":-0.00030,"d":"g"},{"i":133,"v":-0.00044,"d":"g"},{"i":134,"v":-0.00124,"d":"g"},{"i":135,"v":-0.00120,"d":"r"},{"i":136,"v":-0.00104,"d":"r"},{"i":137,"v":-0.00114,"d":"g"},{"i":138,"v":-0.00120,"d":"g"},{"i":139,"v":-0.00134,"d":"g"},
      {"i":140,"v":-0.00120,"d":"r"}
    ]
  },
  "vconcat": [
    {
      "width": 1226,
      "height": 484,
      "layer": [
        {
          "data": {"name": "candles"},
          "mark": {"type": "rule", "color": "black", "strokeWidth": 1},
          "encoding": {
            "x": {"field": "i", "type": "quantitative", "scale": {"domain": [-0.1625, 153.09], "nice": false, "zero": false, "padding": 0},
                  "axis": {"values": [4,8,12,16,20,24,28,32,36,40,44,48,52,56,60,64,68,72,76,80,84,88,92,96,100,104,108,112,116,120,124,128,132,136,140,144,148,152], "labels": false, "ticks": false, "domain": false, "grid": true, "gridColor": "#c4b4c4", "gridDash": [3,3], "title": null, "minExtent": 0, "maxExtent": 0}},
            "y": {"field": "l", "type": "quantitative", "title": null, "scale": {"domain": [1.38738, 1.41112], "nice": false, "zero": false},
                  "axis": {"orient": "right", "values": [1.389,1.3906,1.3922,1.3938,1.3954,1.397,1.3986,1.4002,1.4018,1.4034,1.405,1.4066,1.4082,1.4098], "format": ".5f", "grid": true, "gridColor": "#b4bcb4", "gridDash": [3,3], "tickSize": 5, "labelPadding": 1, "domain": false, "title": null}},
            "y2": {"field": "h"}
          }
        },
        {
          "data": {"name": "candles"},
          "mark": {"type": "bar", "width": 5, "stroke": "black", "strokeWidth": 1},
          "encoding": {
            "x": {"field": "i", "type": "quantitative", "title": null},
            "y": {"field": "o", "type": "quantitative", "title": null},
            "y2": {"field": "c"},
            "fill": {"condition": {"test": "datum.c >= datum.o", "value": "white"}, "value": "black"}
          }
        },
        {
          "data": {"name": "jaw"},
          "mark": {"type": "line", "color": "#1450d2", "strokeWidth": 2, "clip": true},
          "encoding": {"x": {"field": "i", "type": "quantitative", "title": null}, "y": {"field": "v", "type": "quantitative", "title": null}}
        },
        {
          "data": {"name": "teeth"},
          "mark": {"type": "line", "color": "#ff0000", "strokeWidth": 2, "clip": true},
          "encoding": {"x": {"field": "i", "type": "quantitative", "title": null}, "y": {"field": "v", "type": "quantitative", "title": null}}
        },
        {
          "data": {"name": "lips"},
          "mark": {"type": "line", "color": "#32cd32", "strokeWidth": 2, "clip": true},
          "encoding": {"x": {"field": "i", "type": "quantitative", "title": null}, "y": {"field": "v", "type": "quantitative", "title": null}}
        },
        {
          "data": {"name": "fup"},
          "mark": {"type": "point", "shape": "M0,-2.4L0.95,-0.4L0,-0.9L-0.95,-0.4Z", "filled": true, "color": "#151515", "size": 144, "opacity": 1, "clip": true},
          "encoding": {"x": {"field": "i", "type": "quantitative", "title": null}, "y": {"field": "v", "type": "quantitative", "title": null}}
        },
        {
          "data": {"name": "fdn"},
          "mark": {"type": "point", "shape": "M0,2.4L0.95,0.4L0,0.9L-0.95,0.4Z", "filled": true, "color": "#151515", "size": 144, "opacity": 1, "clip": true},
          "encoding": {"x": {"field": "i", "type": "quantitative", "title": null}, "y": {"field": "v", "type": "quantitative", "title": null}}
        },
        {
          "data": {"values": [{}]},
          "mark": {"type": "rule", "color": "#e00000", "strokeWidth": 1},
          "encoding": {"y": {"datum": 1.40853, "type": "quantitative"}}
        },
        {
          "data": {"values": [{}]},
          "mark": {"type": "rect", "color": "#cc0000", "clip": false},
          "encoding": {
            "x": {"datum": 153.2, "type": "quantitative"},
            "x2": {"datum": 158.1},
            "y": {"datum": 1.40883, "type": "quantitative"},
            "y2": {"datum": 1.40822}
          }
        },
        {
          "data": {"values": [{}]},
          "mark": {"type": "text", "color": "white", "align": "left", "baseline": "middle", "dx": 2, "font": "Liberation Sans", "fontSize": 10.5, "clip": false},
          "encoding": {
            "x": {"datum": 153.2, "type": "quantitative"},
            "y": {"datum": 1.40853, "type": "quantitative"},
            "text": {"value": "1.40853"}
          }
        }
      ]
    },
    {
      "width": 1226,
      "height": 103,
      "title": {"text": "AO 0.003119"},
      "layer": [
        {
          "data": {"values": [{}]},
          "mark": {"type": "rule", "color": "#a8b0a8", "strokeDash": [3,3]},
          "encoding": {"y": {"datum": 0, "type": "quantitative", "scale": {"domain": [-0.001886, 0.005151], "nice": false, "zero": false}}}
        },
        {
          "data": {"name": "ao"},
          "mark": {"type": "bar", "width": 5},
          "encoding": {
            "x": {"field": "i", "type": "quantitative", "scale": {"domain": [-0.1625, 153.09], "nice": false, "zero": false, "padding": 0},
                  "axis": {"values": [4,8,12,16,20,24,28,32,36,40,44,48,52,56,60,64,68,72,76,80,84,88,92,96,100,104,108,112,116,120,124,128,132,136,140,144,148,152], "labels": false, "ticks": false, "domain": false, "grid": true, "gridColor": "#c4b4c4", "gridDash": [3,3], "title": null, "minExtent": 0, "maxExtent": 0}},
            "y": {"field": "v", "type": "quantitative", "title": null, "scale": {"domain": [-0.001886, 0.005151], "nice": false, "zero": false},
                  "axis": {"orient": "right", "values": [-0.001886, 0, 0.005151], "labelExpr": "replace(format(datum.value, '.6f'), '\u2212', '-')", "labelFlush": true, "grid": false, "tickSize": 5, "labelPadding": 1, "domain": false, "title": null, "labelFontSize": 9.5}},
            "y2": {"datum": 0},
            "color": {"field": "d", "type": "nominal", "scale": {"domain": ["g", "r"], "range": ["#008000", "#ff0000"]}, "legend": null}
          }
        }
      ]
    },
    {
      "width": 1226,
      "height": 100,
      "title": {"text": "AC -0.0000493"},
      "layer": [
        {
          "data": {"values": [{}]},
          "mark": {"type": "rule", "color": "#a8b0a8", "strokeDash": [3,3]},
          "encoding": {"y": {"datum": 0, "type": "quantitative", "scale": {"domain": [-0.0011616, 0.001309], "nice": false, "zero": false}}}
        },
        {
          "data": {"name": "ac"},
          "mark": {"type": "bar", "width": 5},
          "encoding": {
            "x": {"field": "i", "type": "quantitative", "scale": {"domain": [-0.1625, 153.09], "nice": false, "zero": false, "padding": 0},
                  "axis": {"values": [4,8,12,16,20,24,28,32,36,40,44,48,52,56,60,64,68,72,76,80,84,88,92,96,100,104,108,112,116,120,124,128,132,136,140,144,148,152], "labels": false, "ticks": false, "domain": false, "grid": true, "gridColor": "#c4b4c4", "gridDash": [3,3], "title": null, "minExtent": 0, "maxExtent": 0}},
            "y": {"field": "v", "type": "quantitative", "title": null, "scale": {"domain": [-0.0011616, 0.001309], "nice": false, "zero": false},
                  "axis": {"orient": "right", "values": [-0.0011616, 0, 0.001309], "labelExpr": "replace(format(datum.value, '.7f'), '\u2212', '-')", "labelFlush": true, "grid": false, "tickSize": 5, "labelPadding": 1, "domain": false, "title": null, "labelFontSize": 9}},
            "y2": {"datum": 0},
            "color": {"field": "d", "type": "nominal", "scale": {"domain": ["g", "r"], "range": ["#008000", "#ff0000"]}, "legend": null}
          }
        }
      ]
    },
    {
      "width": 1226,
      "height": 83,
      "title": {"text": "Gator(13,8,5) 0.001721 0.000000"},
      "layer": [
        {
          "data": {"values": [{}]},
          "mark": {"type": "rule", "color": "#a8b0a8", "strokeDash": [3,3]},
          "encoding": {"y": {"datum": 0, "type": "quantitative", "scale": {"domain": [-0.002332, 0.002765], "nice": false, "zero": false}}}
        },
        {
          "data": {"name": "gu"},
          "mark": {"type": "bar", "width": 5},
          "encoding": {
            "x": {"field": "i", "type": "quantitative", "scale": {"domain": [-0.1625, 153.09], "nice": false, "zero": false, "padding": 0},
                  "axis": {"values": [0,4,8,12,16,20,24,28,32,36,40,44,48,52,56,60,64,68,72,76,80,84,88,92,96,100,104,108,112,116,120,124,128,132,136,140,144,148,152], "labelExpr": "datum.value % 8 == 0 && datum.value <= 136 ? ['8 Nov 2024','8 Nov 14:00','8 Nov 22:00','11 Nov 06:00','11 Nov 14:00','11 Nov 22:00','12 Nov 06:00','12 Nov 14:00','12 Nov 22:00','13 Nov 06:00','13 Nov 14:00','13 Nov 22:00','14 Nov 06:00','14 Nov 14:00','14 Nov 22:00','15 Nov 06:00','15 Nov 14:00','15 Nov 22:00'][datum.value / 8] : ''", "labelAlign": "left", "labelPadding": 1, "labelFontSize": 10, "labelOverlap": false, "labelBound": false, "labelFlush": false, "ticks": true, "tickSize": 4, "domain": false, "grid": true, "gridColor": "#c4b4c4", "gridDash": [3,3], "gridOpacity": {"condition": {"test": "datum.value == 0", "value": 0}, "value": 1}, "title": null}},
            "y": {"field": "v", "type": "quantitative", "title": null, "scale": {"domain": [-0.002332, 0.002765], "nice": false, "zero": false},
                  "axis": {"orient": "right", "values": [-0.002332, 0, 0.002765], "labelExpr": "replace(format(datum.value, '.6f'), '\u2212', '-')", "labelFlush": true, "grid": false, "tickSize": 5, "labelPadding": 1, "domain": false, "title": null, "labelFontSize": 9.5}},
            "y2": {"datum": 0},
            "color": {"field": "d", "type": "nominal", "scale": {"domain": ["g", "r"], "range": ["#008000", "#ff0000"]}, "legend": null}
          }
        },
        {
          "data": {"name": "gl"},
          "mark": {"type": "bar", "width": 5},
          "encoding": {
            "x": {"field": "i", "type": "quantitative", "title": null},
            "y": {"field": "v", "type": "quantitative", "title": null},
            "y2": {"datum": 0},
            "color": {"field": "d", "type": "nominal", "legend": null}
          }
        }
      ]
    }
  ],
  "resolve": {"scale": {"x": "independent", "y": "independent", "color": "independent"}}
}
